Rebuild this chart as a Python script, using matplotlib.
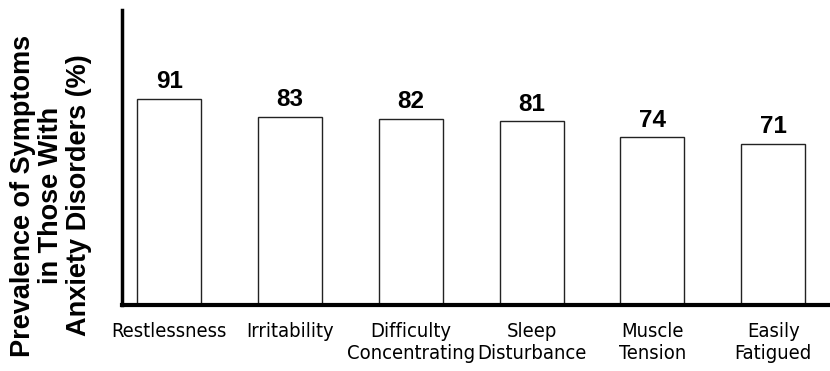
import matplotlib.pyplot as plt

symptoms = ['Restlessness', 'Irritability', 'Difficulty\nConcentrating',
            'Sleep\nDisturbance', 'Muscle\nTension', 'Easily\nFatigued']
prevalence = [91, 83, 82, 81, 74, 71]

fig = plt.figure(figsize=(8.3, 3.71), dpi=100)
ax = fig.add_axes([0.147, 0.178, 0.853, 0.795])

x = list(range(len(symptoms)))
bars = ax.bar(x, prevalence, width=0.53, color='white', edgecolor='#222222', linewidth=1.0)

for b, v in zip(bars, prevalence):
    ax.annotate(str(v), (b.get_x() + b.get_width() / 2, v), xytext=(0, 4),
                textcoords='offset points', ha='center', va='bottom',
                fontsize=17.5, fontweight='bold', family=['Liberation Sans', 'DejaVu Sans'])

ax.set_xlim(-0.39, 5.47)
ax.set_ylim(0, 130)
ax.set_yticks([])
ax.set_xticks(x)
ax.set_xticklabels(symptoms, fontsize=14.5, family=['DejaVu Sans'], fontstretch='condensed',
                   linespacing=1.2)
ax.tick_params(axis='x', length=0, pad=12)

for s in ['top', 'right']:
    ax.spines[s].set_visible(False)
ax.spines['left'].set_linewidth(2.5)
ax.spines['bottom'].set_linewidth(3)

fig.text(0.062, 0.473, 'Prevalence of Symptoms\nin Those With\nAnxiety Disorders (%)',
         rotation=90, ha='center', va='center', multialignment='center',
         fontsize=19.5, fontweight='bold', linespacing=1.1,
         family=['Liberation Sans', 'DejaVu Sans'])

fig.savefig('out.png', dpi=100)
